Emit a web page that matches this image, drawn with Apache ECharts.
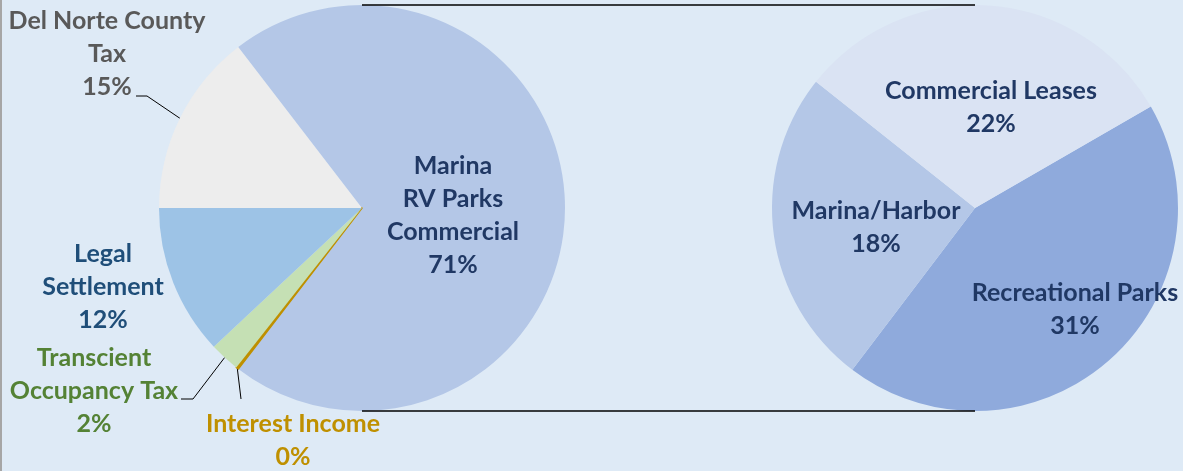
<!DOCTYPE html>
<html>
<head>
<meta charset="utf-8">
<script src="https://cdn.jsdelivr.net/npm/echarts@6/dist/echarts.min.js"></script>
<style>
html,body{margin:0;padding:0;background:#deeaf6;}
#c{width:1183px;height:471px;}
</style>
</head>
<body>
<div id="c"></div>
<script>
// ---- data ----
const leftCategories = ['Del Norte County Tax', 'Interest Income', 'Transcient Occupancy Tax', 'Legal Settlement'];
const leftValues = [14.6, 0.2, 2.4, 12.0];
const otherName = 'Marina RV Parks Commercial';
const rightCategories = ['Recreational Parks', 'Marina/Harbor', 'Commercial Leases'];
const rightValues = [31, 18, 22];

// label texts (with line breaks)
const labelText = {
  'Del Norte County Tax': 'Del Norte County\nTax',
  'Interest Income': 'Interest Income',
  'Transcient Occupancy Tax': 'Transcient\nOccupancy Tax',
  'Legal Settlement': 'Legal\nSettlement',
  'Marina RV Parks Commercial': 'Marina\nRV Parks\nCommercial',
  'Recreational Parks': 'Recreational Parks',
  'Marina/Harbor': 'Marina/Harbor',
  'Commercial Leases': 'Commercial Leases'
};

// ---- styling / layout ----
const FONT = 'Lato';
const FS = 25;
const LH = 33;
const LC = [362, 208], RC = [975, 208], R = 203;
const colors = {
  'Del Norte County Tax': '#ededed',
  'Interest Income': '#bf9000',
  'Transcient Occupancy Tax': '#c5e0b4',
  'Legal Settlement': '#9dc3e6',
  'Marina RV Parks Commercial': '#b4c7e7',
  'Recreational Parks': '#8faadc',
  'Marina/Harbor': '#b4c7e7',
  'Commercial Leases': '#dae3f3'
};
const textColors = {
  'Del Norte County Tax': '#595959',
  'Interest Income': '#bf9000',
  'Transcient Occupancy Tax': '#548235',
  'Legal Settlement': '#1f4e79',
  'Marina RV Parks Commercial': '#203864',
  'Recreational Parks': '#203864',
  'Marina/Harbor': '#203864',
  'Commercial Leases': '#203864'
};
const labelPos = {
  'Del Norte County Tax': [107, 54],
  'Interest Income': [293, 440],
  'Transcient Occupancy Tax': [94, 391],
  'Legal Settlement': [103, 287],
  'Marina RV Parks Commercial': [453, 215],
  'Recreational Parks': [1075, 309],
  'Marina/Harbor': [876, 227],
  'Commercial Leases': [991, 107]
};
const lineBends = {
  'Del Norte County Tax': [[147, 96], [136, 96]],
  'Transcient Occupancy Tax': [[193, 399], [181, 399]],
  'Interest Income': [[241, 399]]
};

const otherValue = rightValues.reduce((a, b) => a + b, 0);
// clockwise order starting at 9 o'clock
const leftData = [
  {name: leftCategories[0], value: leftValues[0]},
  {name: otherName, value: otherValue},
  {name: leftCategories[1], value: leftValues[1]},
  {name: leftCategories[2], value: leftValues[2]},
  {name: leftCategories[3], value: leftValues[3]}
];
const rightData = rightCategories.map((n, i) => ({name: n, value: rightValues[i]}));

function decorate(d) {
  const hasLine = !!lineBends[d.name];
  return {
    name: d.name,
    value: d.value,
    itemStyle: {
      color: colors[d.name],
      borderColor: d.name === 'Interest Income' ? '#bf9000' : colors[d.name],
      borderWidth: d.name === 'Interest Income' ? 1.5 : 0
    },
    label: {
      color: textColors[d.name],
      position: hasLine ? 'outside' : 'inside'
    },
    labelLine: {show: hasLine}
  };
}

function makeLayout(data) {
  return function (p) {
    const name = data[p.dataIndex].name;
    const pos = labelPos[name];
    const res = {x: pos[0], y: pos[1], align: 'center', verticalAlign: 'middle'};
    if (lineBends[name] && p.labelLinePoints) {
      res.labelLinePoints = [p.labelLinePoints[0]].concat(lineBends[name]);
    }
    return res;
  };
}

const labelBase = {
  show: true,
  fontFamily: FONT,
  fontWeight: 'bold',
  fontSize: FS,
  lineHeight: LH,
  align: 'center',
  formatter: p => labelText[p.name] + '\n' + Math.round(p.value) + '%'
};

const chart = echarts.init(document.getElementById('c'), null, {renderer: 'canvas'});
chart.setOption({
  backgroundColor: '#deeaf6',
  animation: false,
  graphic: [
    {type: 'line', shape: {x1: 1, y1: 0, x2: 1, y2: 471}, style: {stroke: '#a6a6a6', lineWidth: 2}, silent: true},
    {type: 'line', shape: {x1: LC[0], y1: LC[1] - R, x2: RC[0], y2: RC[1] - R}, style: {stroke: '#000', lineWidth: 1.5}, silent: true, z: 10},
    {type: 'line', shape: {x1: LC[0], y1: LC[1] + R, x2: RC[0], y2: RC[1] + R}, style: {stroke: '#000', lineWidth: 1.5}, silent: true, z: 10}
  ],
  series: [
    {
      type: 'pie',
      center: LC,
      radius: R,
      startAngle: 180,
      clockwise: true,
      avoidLabelOverlap: false,
      silent: true,
      label: labelBase,
      labelLine: {lineStyle: {color: '#000', width: 1}, length: 10, length2: 10},
      labelLayout: makeLayout(leftData),
      data: leftData.map(decorate)
    },
    {
      type: 'pie',
      center: RC,
      radius: R,
      startAngle: 30,
      clockwise: true,
      avoidLabelOverlap: false,
      silent: true,
      label: labelBase,
      labelLine: {show: false},
      labelLayout: makeLayout(rightData),
      data: rightData.map(decorate)
    }
  ]
});
</script>
</body>
</html>
